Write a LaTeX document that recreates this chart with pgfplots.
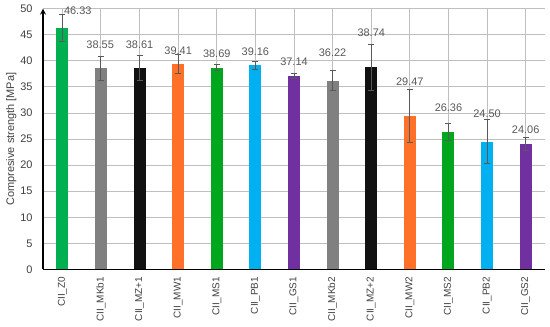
\documentclass[border=0pt]{standalone}
\usepackage{pgfplots}
\pgfplotsset{compat=1.18}
\usepackage{fontspec}
\setmainfont{Liberation Sans}
\definecolor{cgreen}{RGB}{0,176,80}
\definecolor{cgray}{RGB}{128,128,128}
\definecolor{cblack}{RGB}{17,17,17}
\definecolor{corange}{RGB}{255,113,40}
\definecolor{cgreenb}{RGB}{0,166,30}
\definecolor{cblue}{RGB}{0,176,240}
\definecolor{cpurple}{RGB}{112,48,160}
\definecolor{txt}{RGB}{89,89,89}
\definecolor{tick}{RGB}{64,64,64}
\definecolor{grid}{RGB}{217,217,217}
\begin{document}
\begin{tikzpicture}
\begin{axis}[
  width=502bp, height=260.8bp, scale only axis,
  xmin=-0.5, xmax=12.5, ymin=0, ymax=50,
  ytick={0,5,...,50},
  xtick={0,...,12},
  xticklabels={CII\_Z0,CII\_MKb1,CII\_MZ+1,CII\_MW1,CII\_MS1,CII\_PB1,CII\_GS1,CII\_MKb2,CII\_MZ+2,CII\_MW2,CII\_MS2,CII\_PB2,CII\_GS2},
  x tick label style={rotate=90, anchor=east, font=\fontsize{10}{11}\selectfont, text=tick},
  y tick label style={font=\fontsize{11}{12}\selectfont, text=tick},
  /pgf/number format/assume math mode=true,
  ymajorgrids, grid style={grid, line width=0.9pt},
  axis x line*=bottom, axis y line*=left,
  x axis line style={line width=1.6pt, -},
  y axis line style={line width=1.6pt, -stealth},
  major tick length=0pt,
  ylabel={Compresive strength [MPa]},
  ylabel style={font=\fontsize{11}{12}\selectfont, text=tick, yshift=-3pt},
  xticklabel shift=4pt,
  yticklabel shift=7pt,
  clip=false,
]
\addplot[ybar, bar width=12bp, draw=none, fill=cgreen] coordinates {(0,46.33)};
\addplot[ybar, bar width=12bp, draw=none, fill=cgray] coordinates {(1,38.55)};
\addplot[ybar, bar width=12bp, draw=none, fill=cblack] coordinates {(2,38.61)};
\addplot[ybar, bar width=12bp, draw=none, fill=corange] coordinates {(3,39.41)};
\addplot[ybar, bar width=12bp, draw=none, fill=cgreenb] coordinates {(4,38.69)};
\addplot[ybar, bar width=12bp, draw=none, fill=cblue] coordinates {(5,39.16)};
\addplot[ybar, bar width=12bp, draw=none, fill=cpurple] coordinates {(6,37.14)};
\addplot[ybar, bar width=12bp, draw=none, fill=cgray] coordinates {(7,36.22)};
\addplot[ybar, bar width=12bp, draw=none, fill=cblack] coordinates {(8,38.74)};
\addplot[ybar, bar width=12bp, draw=none, fill=corange] coordinates {(9,29.47)};
\addplot[ybar, bar width=12bp, draw=none, fill=cgreenb] coordinates {(10,26.36)};
\addplot[ybar, bar width=12bp, draw=none, fill=cblue] coordinates {(11,24.50)};
\addplot[ybar, bar width=12bp, draw=none, fill=cpurple] coordinates {(12,24.06)};
% error bars
\addplot[draw=none, mark=none, color=txt, line width=0.9pt,
  error bars/.cd, y dir=both, y explicit, error mark options={rotate=90, mark size=3bp, line width=0.9pt, color=txt}, error bar style={line width=0.9pt, color=txt}]
  coordinates {
  (0,46.33) +- (0,2.55)
  (1,38.55) +- (0,2.3)
  (2,38.61) +- (0,2.35)
  (3,39.41) +- (0,1.8)
  (4,38.69) +- (0,0.6)
  (5,39.16) +- (0,0.8)
  (6,37.14) +- (0,0.45)
  (7,36.22) +- (0,1.9)
  (8,38.74) +- (0,4.5)
  (9,29.47) +- (0,5.1)
  (10,26.36) +- (0,1.6)
  (11,24.50) +- (0,4.2)
  (12,24.06) +- (0,1.3)
  };
% value labels
\addplot[draw=none, mark=none, nodes near coords, point meta=explicit symbolic,
  nodes near coords style={anchor=center, font=\fontsize{11}{12}\selectfont, text=txt}]
  coordinates {
  (0.4,49.7) [46.33]
  (0.98,43.1) [38.55]
  (2,43.1) [38.61]
  (3,42.0) [39.41]
  (4,41.35) [38.69]
  (5,41.7) [39.16]
  (6,39.9) [37.14]
  (7,41.5) [36.22]
  (8,45.3) [38.74]
  (9,36.0) [29.47]
  (10,31.0) [26.36]
  (11,29.9) [24.50]
  (12,26.7) [24.06]
  };
\end{axis}
\pgfresetboundingbox
\useasboundingbox ([shift={(-43bp,-57.5bp)}]current axis.south west) rectangle ([shift={(5bp,8.7bp)}]current axis.north east);
\end{tikzpicture}
\end{document}
